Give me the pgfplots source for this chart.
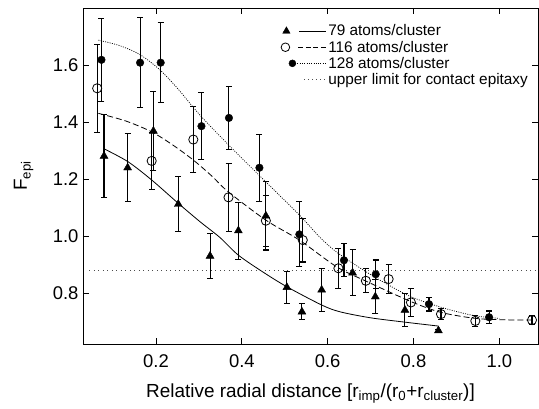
\documentclass[border=0pt]{standalone}
\usepackage{fontspec}
\setmainfont{Liberation Sans}
\usepackage{pgfplots}
\usepackage{pgfplotstable}
\pgfplotsset{compat=1.18}

\pgfplotstableread{
x y e
0.079 1.282 0.145
0.134 1.241 0.120
0.194 1.370 0.140
0.252 1.113 0.097
0.326 0.931 0.078
0.392 1.020 0.100
0.456 1.072 0.120
0.505 0.821 0.056
0.540 0.735 0.028
0.586 0.812 0.076
0.658 0.872 0.081
0.711 0.788 0.060
0.780 0.741 0.057
0.858 0.669 0.005
}\tabA

\pgfplotstableread{
x y e
0.063 1.520 0.155
0.190 1.265 0.100
0.287 1.340 0.115
0.369 1.137 0.120
0.456 1.055 0.090
0.542 0.987 0.077
0.625 0.888 0.070
0.689 0.844 0.042
0.742 0.850 0.050
0.794 0.768 0.048
0.864 0.727 0.020
0.944 0.703 0.018
1.076 0.706 0.015
}\tabB

\pgfplotstableread{
x y e
0.073 1.620 0.145
0.163 1.610 0.158
0.211 1.610 0.141
0.306 1.387 0.118
0.370 1.416 0.110
0.441 1.241 0.118
0.534 1.007 0.114
0.638 0.916 0.058
0.712 0.867 0.050
0.836 0.762 0.024
0.976 0.716 0.022
}\tabC

\begin{document}
\begin{tikzpicture}
\begin{axis}[
  scale only axis, width=455bp, height=336bp,
  xmin=0.03, xmax=1.09, ymin=0.622, ymax=1.802,
  xtick={0.2,0.4,0.6,0.8,1.0},
  ytick={0.8,1.0,1.2,1.4,1.6},
  tick align=inside, major tick length=6.5bp,
  /pgf/number format/.cd, fixed, fixed zerofill, precision=1, assume math mode=true,
  /pgfplots/.cd,
  ticklabel style={font=\fontsize{18.5}{20}\selectfont},
  xticklabel style={yshift=-7bp},
  yticklabel style={xshift=-1bp},
  xlabel={Relative radial distance [r\textsubscript{imp}/(r\textsubscript{0}+r\textsubscript{cluster})]},
  ylabel={F\textsubscript{epi}},
  label style={font=\fontsize{19}{22}\selectfont},
  xlabel style={at={(axis description cs:0.5,0)}, anchor=base, yshift=-53bp},
  ylabel style={at={(axis description cs:0,0.5)}, anchor=base, yshift=56bp},
  axis line style={line width=0.9bp},
  tick style={line width=0.8bp, black},
  legend style={draw=none, fill=none, at={(0.435,0.955)}, anchor=north west,
    font=\fontsize{15.4}{17}\selectfont, row sep=0.5bp, inner sep=0pt,
    nodes={inner sep=1.5bp}},
  legend cell align=left,
  error bars/error bar style={line width=1.1bp, black},
  error bars/error mark options={rotate=90, mark size=3bp, line width=1.1bp, black},
]
% reference line
\addplot[forget plot, black!70, line width=0.8bp, dash pattern=on 1bp off 3.5bp] coordinates {(0.045,0.88) (1.09,0.88)};

% fitted curves
\addplot[forget plot, black, line width=0.8bp, smooth] coordinates {
(0.081,1.306) (0.135,1.262) (0.190,1.198) (0.252,1.116) (0.303,1.051)
(0.349,0.996) (0.392,0.934) (0.450,0.874) (0.505,0.823) (0.586,0.759)
(0.629,0.735) (0.700,0.714) (0.784,0.698) (0.858,0.685)};

\addplot[forget plot, black, line width=0.8bp, dash pattern=on 6bp off 3bp, smooth] coordinates {
(0.066,1.432) (0.130,1.405) (0.190,1.367) (0.240,1.320) (0.287,1.268) (0.330,1.212)
(0.368,1.157) (0.456,1.057) (0.534,0.987) (0.621,0.893) (0.689,0.843)
(0.794,0.771) (0.864,0.733) (0.944,0.712) (1.010,0.707) (1.076,0.706)};

\addplot[forget plot, black, line width=0.7bp, dash pattern=on 1bp off 1.3bp, smooth] coordinates {
(0.066,1.689) (0.115,1.670) (0.163,1.638) (0.209,1.585) (0.250,1.520) (0.303,1.425)
(0.370,1.320) (0.442,1.212) (0.534,1.075) (0.583,0.995) (0.625,0.940)
(0.689,0.876) (0.742,0.829) (0.794,0.788) (0.864,0.751) (0.940,0.722) (1.000,0.712)};

% data
\addplot[forget plot, only marks, mark=triangle*, mark size=4.6bp, mark options={fill=black, draw=black, solid},
  error bars/.cd, y dir=both, y explicit]
  table[x=x, y=y, y error=e] {\tabA};
\addplot[forget plot, only marks, mark=o, mark size=4.6bp, mark options={fill=white, draw=black, line width=0.8bp, solid},
  error bars/.cd, y dir=both, y explicit]
  table[x=x, y=y, y error=e] {\tabB};
\addplot[forget plot, only marks, mark=*, mark size=3.8bp, mark options={fill=black, draw=black, solid},
  error bars/.cd, y dir=both, y explicit]
  table[x=x, y=y, y error=e] {\tabC};

% legend
\addlegendimage{legend image code/.code={
  \draw[black, fill=black, solid] plot[mark=triangle*, mark size=4.3bp] coordinates {(4bp,0bp)};
  \draw[black, line width=0.8bp, solid] (17bp,0bp) -- (44bp,0bp);}}
\addlegendentry{79 atoms/cluster}
\addlegendimage{legend image code/.code={
  \draw[black, fill=white, solid, line width=0.8bp] plot[mark=o, mark size=4.3bp] coordinates {(3bp,0bp)};
  \draw[black, line width=0.8bp, dash pattern=on 5bp off 2.5bp] (16bp,0bp) -- (44bp,0bp);}}
\addlegendentry{116 atoms/cluster}
\addlegendimage{legend image code/.code={
  \draw[black, fill=black, solid] plot[mark=*, mark size=3.5bp] coordinates {(10bp,0bp)};
  \draw[black, line width=0.7bp, dash pattern=on 1bp off 1.3bp] (15bp,0bp) -- (44bp,0bp);}}
\addlegendentry{128 atoms/cluster}
\addlegendimage{legend image code/.code={
  \draw[black!70, line width=0.8bp, dash pattern=on 1bp off 3bp] (22bp,0bp) -- (44bp,0bp);}}
\addlegendentry{upper limit for contact epitaxy}
\end{axis}
\path ([xshift=-83bp,yshift=-65bp]current axis.south west) rectangle ([xshift=1bp,yshift=8bp]current axis.north east);
\end{tikzpicture}
\end{document}
